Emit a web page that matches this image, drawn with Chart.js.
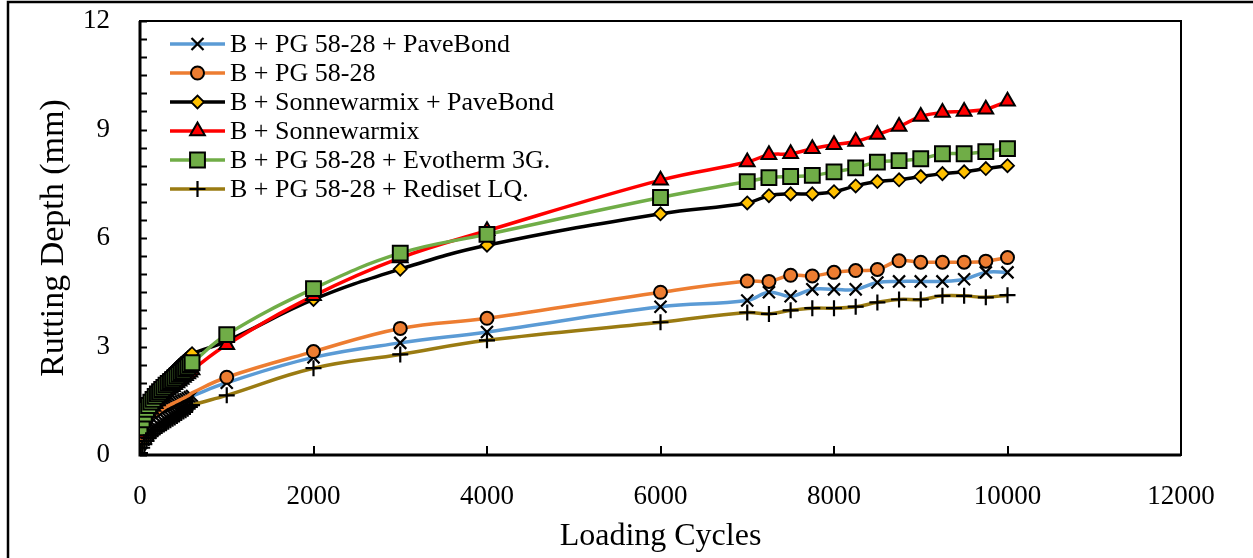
<!DOCTYPE html>
<html>
<head>
<meta charset="utf-8">
<script src="https://cdn.jsdelivr.net/npm/chart.js@4/dist/chart.umd.min.js"></script>
<style>
  html, body { margin: 0; padding: 0; background: #fff; }
  canvas { display: block; }
</style>
</head>
<body>
<canvas id="c" width="1253" height="558"></canvas>
<script>
// ---- Data ----
const cycles = [0, 25, 50, 75, 100, 125, 150, 175, 200, 225, 250, 275, 300, 325, 350, 375,
  400, 425, 450, 475, 500, 525, 550, 575, 600,
  1000, 2000, 3000, 4000, 6000,
  7000, 7250, 7500, 7750, 8000, 8250, 8500, 8750, 9000, 9250, 9500, 9750, 10000];

const seriesNames = [
  'B + PG 58-28 + PaveBond',
  'B + PG 58-28',
  'B + Sonnewarmix + PaveBond',
  'B + Sonnewarmix',
  'B + PG 58-28 + Evotherm 3G.',
  'B + PG 58-28 + Rediset LQ.'
];

const pgPaveBond = [0.3, 0.5, 0.64, 0.75, 0.84, 0.92, 0.99, 1.05, 1.1, 1.15, 1.19, 1.23, 1.27,
  1.3, 1.33, 1.36, 1.39, 1.42, 1.45, 1.48, 1.51, 1.54, 1.57, 1.6, 1.63,
  2.0, 2.7, 3.1, 3.4, 4.1,
  4.27, 4.5, 4.39, 4.58, 4.58, 4.58, 4.77, 4.8, 4.8, 4.8, 4.86, 5.05, 5.05];
const pg5828 = [0.35, 0.55, 0.7, 0.81, 0.9, 0.98, 1.05, 1.11, 1.16, 1.21, 1.25, 1.29, 1.33,
  1.36, 1.39, 1.42, 1.45, 1.48, 1.51, 1.54, 1.57, 1.6, 1.63, 1.67, 1.72,
  2.15, 2.86, 3.5, 3.78, 4.5,
  4.81, 4.8, 4.97, 4.95, 5.05, 5.1, 5.13, 5.37, 5.33, 5.33, 5.33, 5.36, 5.46];
const sonnePaveBond = [0.85, 1.08, 1.25, 1.38, 1.5, 1.6, 1.69, 1.77, 1.85, 1.92, 1.99, 2.05, 2.11,
  2.17, 2.23, 2.29, 2.35, 2.41, 2.47, 2.53, 2.58, 2.63, 2.68, 2.74, 2.8,
  3.15, 4.3, 5.14, 5.8, 6.67,
  6.97, 7.17, 7.22, 7.22, 7.28, 7.44, 7.56, 7.61, 7.7, 7.78, 7.83, 7.92, 8.0];
const sonnewarmix = [0.6, 0.8, 0.95, 1.07, 1.17, 1.26, 1.34, 1.42, 1.49, 1.56, 1.62, 1.68, 1.74,
  1.79, 1.84, 1.89, 1.94, 1.99, 2.04, 2.09, 2.14, 2.19, 2.24, 2.29, 2.35,
  3.05, 4.4, 5.45, 6.2, 7.6,
  8.1, 8.3, 8.33, 8.47, 8.58, 8.67, 8.86, 9.08, 9.36, 9.47, 9.5, 9.56, 9.78];
const evotherm = [0.75, 0.97, 1.13, 1.26, 1.37, 1.46, 1.54, 1.62, 1.69, 1.75, 1.81, 1.87, 1.93,
  1.98, 2.03, 2.08, 2.13, 2.18, 2.23, 2.28, 2.33, 2.39, 2.44, 2.5, 2.55,
  3.33, 4.6, 5.58, 6.1, 7.12,
  7.56, 7.67, 7.7, 7.73, 7.83, 7.94, 8.1, 8.14, 8.19, 8.33, 8.33, 8.39, 8.47];
const rediset = [0.05, 0.2, 0.3, 0.39, 0.47, 0.54, 0.6, 0.66, 0.71, 0.76, 0.8, 0.84, 0.88,
  0.92, 0.96, 1.0, 1.04, 1.08, 1.12, 1.16, 1.2, 1.24, 1.28, 1.33, 1.38,
  1.65, 2.4, 2.78, 3.17, 3.67,
  3.94, 3.9, 4.0, 4.06, 4.06, 4.1, 4.22, 4.3, 4.3, 4.4, 4.4, 4.36, 4.42];

const xTickStep = 2000;
const yTickStep = 3;

// ---- Styles ----
const FONT = '"Liberation Serif", "Times New Roman", serif';
const styles = [
  { line: '#5B9BD5', style: 'crossRot', fill: '#000', border: '#000', r: 8.5, bw: 2.2 },
  { line: '#ED7D31', style: 'circle', fill: '#ED7D31', border: '#000', r: 6.5, bw: 2 },
  { line: '#000000', style: 'rectRot', fill: '#FFC000', border: '#000', r: 6.5, bw: 1.8 },
  { line: '#FF0000', style: 'triangle', fill: '#FF0000', border: '#000', r: 8.5, bw: 2 },
  { line: '#70AD47', style: 'rect', fill: '#70AD47', border: '#000', r: 10.5, bw: 2 },
  { line: '#9A7B12', style: 'cross', fill: '#000', border: '#000', r: 8, bw: 2.2 }
];
const seriesValues = [pgPaveBond, pg5828, sonnePaveBond, sonnewarmix, evotherm, rediset];

const datasets = seriesValues.map((vals, k) => {
  const s = styles[k];
  return {
    label: seriesNames[k],
    data: cycles.map((c, i) => ({ x: c, y: vals[i] })),
    borderColor: s.line,
    backgroundColor: s.fill,
    borderWidth: 3.5,
    tension: 0.4,
    pointStyle: s.style,
    pointBackgroundColor: s.fill,
    pointBorderColor: s.border,
    pointBorderWidth: s.bw,
    pointRadius: (k === 1) ? (ctx => (ctx.raw && ctx.raw.x < 1000 ? 0 : s.r)) : s.r,
    order: 6 - k
  };
});

const framePlugin = {
  id: 'frame',
  beforeDraw(chart) {
    const ctx = chart.ctx;
    ctx.save();
    ctx.fillStyle = '#fff';
    ctx.fillRect(0, 0, chart.width, chart.height);
    ctx.restore();
  },
  beforeDatasetsDraw(chart) {
    const { ctx, chartArea: a, scales: { x, y } } = chart;
    ctx.save();
    ctx.strokeStyle = '#000';
    // outer frame
    ctx.lineWidth = 2.5;
    ctx.strokeRect(8, 2, chart.width + 20, chart.height + 20);
    // plot box
    ctx.lineWidth = 2;
    ctx.strokeRect(a.left, a.top, a.right - a.left, a.bottom - a.top);
    // main axes
    ctx.lineWidth = 3;
    ctx.beginPath();
    ctx.moveTo(a.left, a.top);
    ctx.lineTo(a.left, a.bottom);
    ctx.lineTo(a.right, a.bottom);
    ctx.stroke();
    // inner ticks
    ctx.lineWidth = 2;
    ctx.beginPath();
    for (let v = 0; v <= y.max + 1e-9; v += 0.5) {
      const py = Math.round(y.getPixelForValue(v)) + 0.5;
      ctx.moveTo(a.left, py);
      ctx.lineTo(a.left + 7, py);
    }
    for (let v = 0; v <= x.max + 1e-9; v += xTickStep) {
      const px = Math.round(x.getPixelForValue(v));
      ctx.moveTo(px, a.bottom);
      ctx.lineTo(px, a.bottom - 9);
    }
    ctx.stroke();
    ctx.restore();
  },
  afterDatasetsDraw(chart) {
    const { ctx, chartArea: a } = chart;
    ctx.save();
    chart.data.datasets.forEach((ds, i) => {
      const s = styles[i];
      const yy = a.top + 23 + i * 29;
      const x0 = a.left + 30, x1 = a.left + 85;
      ctx.strokeStyle = s.line;
      ctx.lineWidth = 3.5;
      ctx.beginPath();
      ctx.moveTo(x0, yy);
      ctx.lineTo(x1, yy);
      ctx.stroke();
      ctx.fillStyle = s.fill;
      ctx.strokeStyle = s.border;
      ctx.lineWidth = s.bw;
      Chart.helpers.drawPoint(ctx, { pointStyle: s.style, radius: s.r, borderWidth: s.bw, rotation: 0 }, (x0 + x1) / 2, yy);
      ctx.fillStyle = '#000';
      ctx.font = '26px ' + FONT;
      ctx.textBaseline = 'middle';
      ctx.textAlign = 'left';
      ctx.fillText(ds.label, a.left + 90, yy + 1);
    });
    ctx.restore();
  }
};

new Chart(document.getElementById('c'), {
  type: 'line',
  data: { datasets },
  plugins: [framePlugin],
  options: {
    responsive: false,
    devicePixelRatio: 1,
    animation: false,
    layout: { padding: { left: 0, top: 21, right: 72, bottom: 0 } },
    plugins: { legend: { display: false }, tooltip: { enabled: false } },
    scales: {
      x: {
        type: 'linear', min: 0, max: 12000,
        ticks: { stepSize: xTickStep, padding: 2, color: '#000', font: { family: FONT, size: 27 },
          callback: v => String(v) },
        grid: { display: false, drawTicks: true, tickLength: 24 },
        border: { display: false },
        title: { display: true, text: 'Loading Cycles', color: '#000', font: { family: FONT, size: 32 }, padding: { top: 0, bottom: 2 } },
        afterFit: s => { s.height = 103; }
      },
      y: {
        type: 'linear', min: 0, max: 12,
        ticks: { stepSize: yTickStep, padding: 2, color: '#000', font: { family: FONT, size: 27 },
          callback: v => String(v) },
        grid: { display: false, drawTicks: true, tickLength: 28 },
        border: { display: false },
        title: { display: true, text: 'Rutting Depth (mm)', color: '#000', font: { family: FONT, size: 34 }, padding: { top: 34, bottom: 0 } },
        afterFit: s => { s.width = 140; }
      }
    }
  }
});
</script>
</body>
</html>
